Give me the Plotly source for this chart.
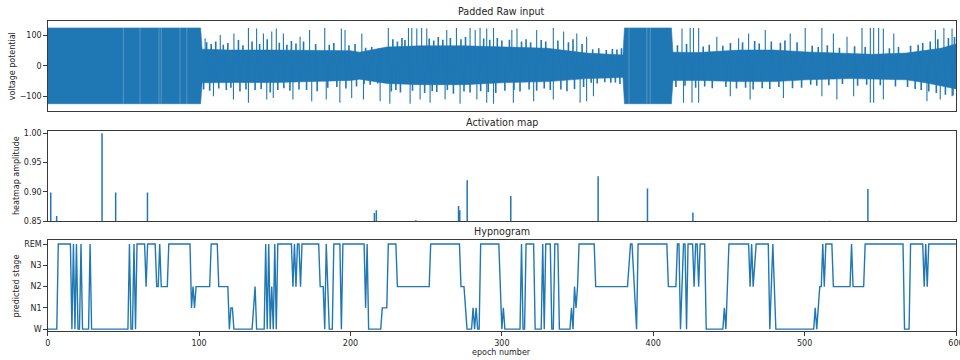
import plotly.graph_objects as go

# ---------------- data ----------------
# Raw input: solid core envelope (knots)
core_epochs = [0, 101, 102, 120, 150, 180, 200, 206, 224, 246, 275, 303, 330, 356, 370, 380,
               381, 412, 413, 430, 457, 480, 501, 530, 545, 567, 580, 590, 600]
core_upper = [125, 125, 55, 52, 52, 52, 50, 45, 62, 66, 66, 62, 58, 42, 38, 36,
              125, 125, 45, 44, 52, 52, 46, 40, 38, 42, 50, 58, 72]
core_lower = [-125, -125, -56, -55, -55, -50, -48, -44, -58, -62, -62, -55, -52, -42, -40, -38,
              -125, -125, -48, -48, -52, -52, -46, -42, -43, -46, -56, -66, -76]

# fuzzy edge strokes around the core
edge_epochs = [105, 108, 111, 116, 119, 126, 129, 135, 140, 145, 153, 158, 161, 164, 169, 177,
               186, 189, 199, 203, 210, 214, 219,
               228, 231, 234, 236, 252, 255, 258, 261, 266, 273, 276, 288, 292, 297, 300,
               305, 313, 316, 319, 326, 329, 337, 344, 347, 353,
               360, 364, 369, 373, 376, 379,
               416, 422, 433, 437, 446, 451, 459, 467, 470, 478, 484, 487, 495,
               505, 509, 515, 523, 533, 540, 556, 562,
               570, 575, 578, 583, 588, 595, 599,
               103, 107, 113, 118, 121, 127, 131, 137, 141, 147, 152, 156, 160, 166, 171, 178,
               185, 191, 197, 204, 209, 213, 218,
               227, 230, 233, 241, 249, 254, 257, 264, 268, 275, 279, 286, 291, 296, 302,
               308, 312, 318, 323, 328, 332, 339, 343, 348, 354,
               359, 363, 368, 372, 375, 378,
               415, 421, 428, 434, 439, 448, 455, 461, 466, 472, 477, 483, 492, 498,
               504, 508, 516, 525, 535, 541, 550, 560,
               568, 573, 577, 582, 587, 593, 598]
edge_values = [78, 72, 80, 70, 75, 85, 68, 80, 72, 88, 76, 70, 82, 74, 80, 72,
               70, 75, 68, 72, 60, 62, 58,
               88, 80, 92, 85, 90, 84, 95, 86, 92, 88, 95, 90, 86, 92, 84,
               86, 80, 88, 78, 85, 80, 84, 78, 88, 72,
               55, 58, 52, 56, 54, 58,
               68, 72, 64, 70, 66, 75, 78, 82, 74, 80, 76, 84, 78,
               66, 62, 68, 60, 65, 62, 58, 62,
               66, 70, 75, 80, 88, 92, 95,
               -78, -82, -75, -80, -72, -85, -78, -80, -76, -88, -80, -74, -82, -78, -80, -84,
               -72, -70, -75, -68, -60, -62, -58,
               -85, -80, -88, -82, -90, -84, -86, -80, -92, -85, -88, -84, -86, -90, -82,
               -80, -85, -78, -82, -75, -80, -78, -84, -76, -70,
               -56, -58, -54, -56, -55, -60,
               -70, -66, -72, -68, -74, -70, -75, -72, -78, -74, -76, -70, -74, -72,
               -62, -66, -64, -60, -66, -62, -64, -68,
               -70, -76, -80, -85, -90, -95, -98]

# large excursions
spike_epochs = [104, 114, 123, 132.6, 138, 142.5, 148, 151, 155.7, 166.7, 173,
                109.5, 122.7, 132.6, 144.7, 149, 162, 174.4,
                183, 194, 196.4, 207.5, 225, 238.3, 240.5, 243.8, 247, 250.4, 263.6, 270, 279,
                282.4, 285.6, 290, 294.5, 306.6, 310, 323, 334, 340.8, 349.5, 356,
                184, 193, 200.8, 208.6, 219.6, 226, 239.4, 246, 252.6, 262.5, 272.4, 283.5, 290,
                294.5, 307.6, 321, 334, 351.7, 356, 360.5,
                419, 424.4, 426.6, 430, 442, 456.4, 463, 474, 490.5, 500.4, 511.4, 519, 528,
                537.9, 543.4, 545.6, 548.9, 552, 558.9, 586.4, 592, 597.4,
                420, 425.6, 430, 450.9, 464, 486, 511.4, 521.3, 532.4, 543.4, 545.6, 552,
                580.8, 589.6, 597.4]
spike_values = [91, 102, 107, 125, 123, 107, 113, 123, 107, 96, 118,
                -100, -111, -122, -111, -106, -111, -117,
                125, 123, 118, 107, 125, 125, 125, 123, 125, 123, 118, 125, 125,
                118, 125, 123, 125, 118, 123, 118, 125, 113, 107, 96,
                -111, -122, -106, -111, -117, -125, -125, -111, -122, -111, -125, -111, -122,
                -125, -122, -117, -111, -122, -117, -100,
                123, 125, 125, 125, 96, 91, 107, 118, 107, 125, 125, 107, 96,
                125, 125, 125, 125, 123, 107, 118, 125, 123,
                -122, -122, -122, -100, -111, -106, -100, -111, -100, -122, -122, -111,
                -117, -111, -100]

# thin lighter gaps inside the clipped (saturated) stretches
gap_epochs = [50, 61, 73.5, 75, 87.4, 91.9, 384, 395.8, 398]

# Activation map spikes
act_epochs = [2.0, 5.9, 35.9, 44.9, 65.9, 215.8, 217.1, 243.2, 271.4, 272.2, 277.1,
              305.9, 363.6, 396.2, 426.2, 516.5, 541.8]
act_values = [0.899, 0.859, 1.0, 0.899, 0.899, 0.864, 0.869, 0.852, 0.876, 0.869, 0.920,
              0.893, 0.927, 0.906, 0.865, 0.851, 0.905]

# Hypnogram (vertices of the per-epoch line), stage 0=W .. 4=REM
hyp_epoch = [0, 6, 7, 15, 16, 17, 18, 19, 20, 21, 22, 23, 27, 28, 29,
             53, 54, 55, 56, 57, 58, 59, 64, 65, 66, 71, 72, 73, 74, 75, 79, 80, 94, 95, 96, 97, 98,
             107, 108, 112, 113, 119, 120, 121, 122, 123,
             135, 137, 138, 143, 144, 145, 146, 147, 148, 149, 150, 151, 152, 161, 162, 163, 164,
             165, 166, 167, 168, 179, 180, 182, 183, 184, 186, 188, 189, 193, 194, 195, 209, 210,
             211, 212, 220, 221, 224, 225, 230, 231, 252, 253, 272, 273, 275, 277,
             280, 281, 282, 283, 284, 285, 286, 298, 300, 301, 302, 312, 313, 314, 315, 316, 321,
             322, 326, 327, 328, 329, 332, 333, 334, 335, 337, 338, 345, 346, 347, 348, 349, 350,
             351, 361, 362, 383, 385, 386, 389, 390, 409, 410, 415, 416, 417, 418, 420, 421, 422,
             423, 426, 427, 428, 429, 430, 431, 434, 435, 446, 447, 448, 450, 463, 464, 465, 466,
             468, 476, 477, 479, 481, 506, 507, 508, 510, 511, 512, 513, 514, 518, 519, 530, 531,
             532, 539, 540, 565, 566, 569, 570, 578, 579, 580, 581, 582, 600]
hyp_stage = [0, 0, 4, 4, 0, 4, 0, 4, 0, 0, 4, 0, 0, 4, 0,
             0, 4, 0, 0, 4, 0, 4, 4, 2, 4, 4, 2, 2, 4, 2, 2, 4, 4, 1, 2, 1, 2,
             2, 4, 4, 2, 2, 0, 1, 1, 0,
             0, 2, 0, 0, 4, 0, 4, 0, 2, 0, 4, 0, 4, 4, 2, 4, 2,
             4, 4, 2, 4, 4, 2, 2, 0, 4, 0, 0, 4, 4, 0, 4, 4, 1,
             4, 0, 0, 1, 1, 4, 4, 2, 2, 4, 4, 2, 2, 0,
             0, 1, 0, 1, 0, 0, 4, 4, 0, 1, 0, 0, 4, 0, 0, 4, 4,
             0, 0, 4, 0, 4, 4, 0, 0, 4, 4, 0, 0, 1, 0, 2, 1, 2,
             4, 4, 2, 2, 4, 4, 0, 4, 4, 2, 2, 4, 4, 0, 4, 4, 0,
             4, 4, 2, 4, 4, 2, 4, 4, 0, 0, 1, 0, 4, 4, 2, 4, 2,
             4, 4, 0, 4, 0, 0, 1, 0, 2, 2, 4, 2, 4, 4, 2, 2, 4,
             2, 2, 4, 4, 0, 0, 4, 4, 2, 4, 2, 4, 4]

stage_labels = ["W", "N1", "N2", "N3", "REM"]
x_ticks = [0, 100, 200, 300, 400, 500, 600]

# ---------------- styling / layout helpers ----------------
W, H = 960, 360
BLUE = "#1f77b4"
TXT = "#262626"
AX = "#3a3a3a"
FONT = "DejaVu Sans"


def px(x):
    return x / W


def py(y):
    return 1 - y / H


x_dom = [px(47.7), px(956)]
panels = {
    "top": [py(111), py(20.7)],
    "mid": [py(221.3), py(130.7)],
    "bot": [py(331.3), py(240)],
}


def strokes(xs, ys, base=0.0):
    ox, oy = [], []
    for e, v in zip(xs, ys):
        ox += [e, e, None]
        oy += [base, v, None]
    return ox, oy


fig = go.Figure()

# --- raw input ---
poly_x = core_epochs + core_epochs[::-1]
poly_y = core_upper + core_lower[::-1]
fig.add_trace(go.Scatter(x=poly_x, y=poly_y, fill="toself", fillcolor=BLUE,
                         line=dict(width=0.6, color=BLUE), mode="lines",
                         xaxis="x", yaxis="y", hoverinfo="skip"))
ex, ey = strokes(edge_epochs, edge_values)
fig.add_trace(go.Scatter(x=ex, y=ey, mode="lines", line=dict(width=1.6, color=BLUE),
                         xaxis="x", yaxis="y", hoverinfo="skip"))
sx, sy = strokes(spike_epochs, spike_values)
fig.add_trace(go.Scatter(x=sx, y=sy, mode="lines", line=dict(width=1.1, color=BLUE),
                         xaxis="x", yaxis="y", hoverinfo="skip"))
gx, gy = [], []
for e in gap_epochs:
    gx += [e, e, None]
    gy += [-125, 125, None]
fig.add_trace(go.Scatter(x=gx, y=gy, mode="lines", line=dict(width=0.8, color="rgba(255,255,255,0.3)"),
                         xaxis="x", yaxis="y", hoverinfo="skip"))

# --- activation map ---
ax_, ay_ = strokes(act_epochs, act_values)
fig.add_trace(go.Scatter(x=ax_, y=ay_, mode="lines", line=dict(width=1.5, color=BLUE),
                         xaxis="x2", yaxis="y2", hoverinfo="skip"))

# --- hypnogram ---
fig.add_trace(go.Scatter(x=hyp_epoch, y=hyp_stage, mode="lines",
                         line=dict(width=1.4, color=BLUE),
                         xaxis="x3", yaxis="y3", hoverinfo="skip"))

common_axis = dict(showline=True, mirror=True, linecolor=AX, linewidth=0.9,
                   showgrid=False, zeroline=False, ticks="outside", ticklen=3.5,
                   tickwidth=0.8, tickcolor=AX, tickfont=dict(family=FONT, size=8, color=TXT),
                   automargin=False)
no_tick_axis = {k: v for k, v in common_axis.items() if k != "ticks"}

fig.update_layout(
    width=W, height=H, margin=dict(l=0, r=0, t=0, b=0),
    paper_bgcolor="white", plot_bgcolor="white", showlegend=False,
    font=dict(family=FONT, color=TXT),
    xaxis=dict(domain=x_dom, range=[0, 600], anchor="y", showticklabels=False,
               ticks="", **no_tick_axis),
    yaxis=dict(domain=panels["top"], range=[-149, 149], anchor="x",
               tickvals=[-100, 0, 100], **common_axis),
    xaxis2=dict(domain=x_dom, range=[0, 600], anchor="y2", showticklabels=False,
                ticks="", **no_tick_axis),
    yaxis2=dict(domain=panels["mid"], range=[0.85, 1.0045], anchor="x2",
                tickvals=[0.85, 0.90, 0.95, 1.00], tickformat=".2f", **common_axis),
    xaxis3=dict(domain=x_dom, range=[0, 600], anchor="y3", tickvals=x_ticks,
                ticklabeloverflow="allow", ticklabelstandoff=1, **common_axis),
    yaxis3=dict(domain=panels["bot"], range=[-0.1, 4.19], anchor="x3",
                tickvals=[0, 1, 2, 3, 4], ticktext=stage_labels, **common_axis),
)

cx = (47.7 + 956) / 2
ann = [
    ("Padded Raw input", cx, 11.5, 0, 9.6),
    ("Activation map", cx, 122, 0, 9.6),
    ("Hypnogram", cx, 231.5, 0, 9.6),
    ("epoch number", cx, 352.8, 0, 8),
    ("voltage potential", 12.2, 66, -90, 8),
    ("heatmap amplitude", 16, 176, -90, 8),
    ("predicted stage", 16.7, 285.7, -90, 8),
]
for text, x, y, ang, size in ann:
    fig.add_annotation(text=text, x=px(x), y=py(y), xref="paper", yref="paper",
                       xanchor="center", yanchor="middle", showarrow=False, textangle=ang,
                       font=dict(family=FONT, size=size, color=TXT))

fig.write_html("out.html", config={"displayModeBar": False},
               post_script="document.body.style.margin='0';")
